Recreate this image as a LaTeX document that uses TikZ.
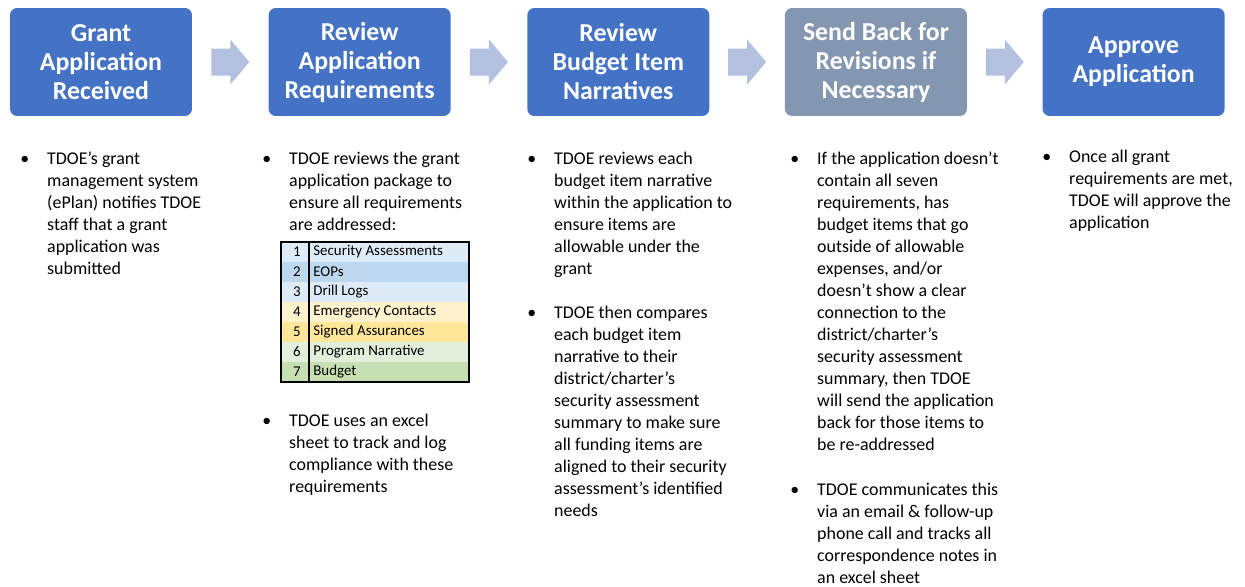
\documentclass[tikz,border=0pt]{standalone}
\usepackage{fontspec}
\setmainfont{Carlito}
\usetikzlibrary{positioning,calc}

\definecolor{stepblue}{RGB}{68,114,196}
\definecolor{stepgray}{RGB}{132,151,176}
\definecolor{arrowfill}{RGB}{180,192,224}
\definecolor{rowblueA}{RGB}{221,235,247}
\definecolor{rowblueB}{RGB}{189,215,238}
\definecolor{rowyelA}{RGB}{255,242,204}
\definecolor{rowyelB}{RGB}{255,230,153}
\definecolor{rowgrnA}{RGB}{226,239,218}
\definecolor{rowgrnB}{RGB}{198,224,180}

\tikzset{
  stepbox/.style={fill=stepblue, rounded corners=4pt, minimum width=3.64cm,
    minimum height=2.16cm, text=white, align=center,
    font=\fontsize{14.7}{16.5}\selectfont\bfseries},
  bullettext/.style={anchor=north west, inner sep=0pt,
    font=\fontsize{10.2}{12.5}\selectfont},
  rowtext/.style={inner sep=0pt, font=\fontsize{8.5}{10}\selectfont},
  blockarrow/.pic={\fill[arrowfill] (-19,-13.5) -- (0,-13.5) -- (0,-22.5)
    -- (19,0) -- (0,22.5) -- (0,13.5) -- (-19,13.5) -- cycle;}
}
\newcommand{\bul}[1]{\makebox[15.3pt][l]{•}\parbox[t]{4.5cm}{\raggedright #1}}

\begin{document}
\begin{tikzpicture}[x=0.02cm, y=-0.02cm]
  \useasboundingbox (0,0) rectangle (1245,586);

  % process steps
  \node[stepbox] (received) at (101,62) {Grant\\Application\\Received};
  \node[stepbox, right=1.52cm of received] (requirements) {Review\\Application\\Requirements};
  \node[stepbox, right=1.52cm of requirements] (narratives) {Review\\Budget Item\\Narratives};
  \node[stepbox, fill=stepgray, right=1.5cm of narratives] (revisions) {Send Back for\\Revisions if\\Necessary};
  \node[stepbox, right=1.5cm of revisions] (approve) {Approve\\Application};

  \pic at ($(received.east)!0.5!(requirements.west)$) {blockarrow};
  \pic at ($(requirements.east)!0.5!(narratives.west)$) {blockarrow};
  \pic at ($(narratives.east)!0.5!(revisions.west)$) {blockarrow};
  \pic at ($(revisions.east)!0.5!(approve.west)$) {blockarrow};

  % bullets
  \node[bullettext] (notify) at (20,152) {\bul{TDOE’s grant\\
    management system\\ (ePlan) notifies TDOE\\ staff that a grant\\
    application was\\ submitted}};

  \node[bullettext] (package) at (262,152) {\bul{TDOE reviews the grant\\
    application package to\\ ensure all requirements\\ are addressed:}};
  \node[bullettext] (excel) at (262,414) {\bul{TDOE uses an excel\\
    sheet to track and log\\ compliance with these\\ requirements}};

  \node[bullettext] (each) at (527,152) {\bul{TDOE reviews each\\
    budget item narrative\\ within the application to\\ ensure items are\\
    allowable under the\\ grant}};
  \node[bullettext] (compare) at (527,306) {\bul{TDOE then compares\\
    each budget item\\ narrative to their\\ district/charter’s\\
    security assessment\\ summary to make sure\\ all funding items are\\
    aligned to their security\\ assessment’s identified\\ needs}};

  \node[bullettext] (ifnot) at (790,152) {\bul{If the application doesn’t\\
    contain all seven\\ requirements, has\\ budget items that go\\
    outside of allowable\\ expenses, and/or\\ doesn’t show a clear\\
    connection to the\\ district/charter’s\\ security assessment\\
    summary, then TDOE\\ will send the application\\
    back for those items to\\ be re-addressed}};
  \node[bullettext] (communicate) at (790,483) {\bul{TDOE communicates this\\
    via an email \& follow-up\\ phone call and tracks all\\
    correspondence notes in\\ an excel sheet}};

  \node[bullettext] (once) at (1042,150) {\bul{Once all grant\\
    requirements are met,\\ TDOE will approve the\\ application}};

  % checklist
  \foreach \i/\lbl/\col in {1/Security Assessments/rowblueA, 2/EOPs/rowblueB,
      3/Drill Logs/rowblueA, 4/Emergency Contacts/rowyelA,
      5/Signed Assurances/rowyelB, 6/Program Narrative/rowgrnA,
      7/Budget/rowgrnB} {
    \fill[\col] (281,{242+20*(\i-1)}) rectangle (469,{242+20*\i});
    \node[rowtext] (num\i) at (297,{232+20*\i}) {\i};
    \node[rowtext, anchor=west] (item\i) at (313,{232+20*\i}) {\lbl};
  }
  \draw[line width=1.2pt] (281,242) rectangle (469,382);
  \draw[line width=0.6pt] (309,242) -- (309,382);
\end{tikzpicture}
\end{document}
